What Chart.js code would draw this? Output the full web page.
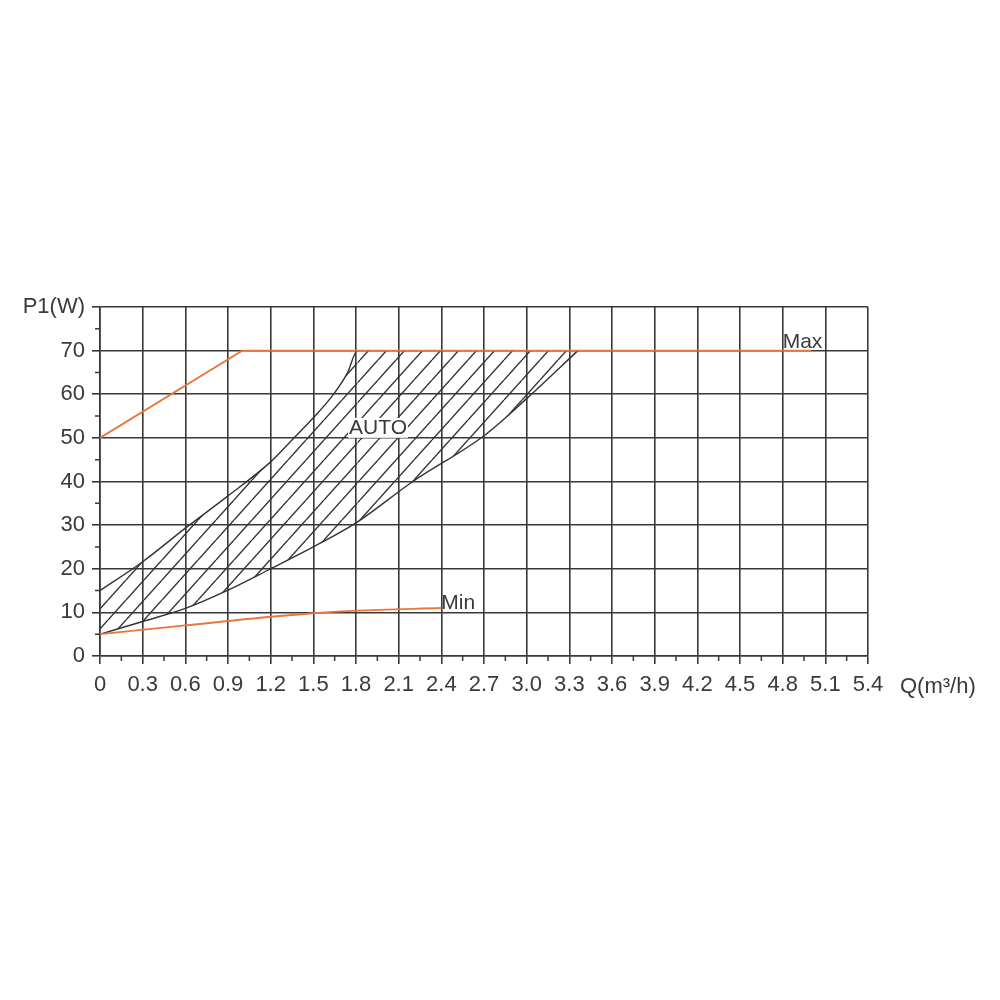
<!DOCTYPE html>
<html>
<head>
<meta charset="utf-8">
<script src="https://cdn.jsdelivr.net/npm/chart.js@4/dist/chart.umd.min.js"></script>
<style>
  body { margin: 0; background: #fff; }
  canvas { display: block; }
</style>
</head>
<body>
<canvas id="pump-graph" width="1000" height="1000"></canvas>
<script>
// Q (m3/h) and P1 (W)
const maxQ = [0, 1.0, 5.0];
const maxP = [50, 70, 70];

const minQ = [0, 0.6, 1.2, 1.5, 1.8, 2.4];
const minP = [5, 7, 9, 9.8, 10.4, 11];

const autoUpperQ = [0, 0.3, 0.6, 0.9, 1.2, 1.35, 1.5, 1.64, 1.74, 1.81, 3.36];
const autoUpperP = [15, 21.6, 29.3, 36.7, 44.5, 49.5, 54.6, 59.9, 64.9, 70, 70];

const autoLowerQ = [0, 0.3, 0.6, 0.9, 1.2, 1.5, 1.8, 2.2, 2.7, 3.0, 3.36];
const autoLowerP = [5, 7.9, 10.9, 15.1, 20, 25, 30.5, 40, 50.5, 59, 70];

const xTickLabels = ['0', '0.3', '0.6', '0.9', '1.2', '1.5', '1.8', '2.1', '2.4', '2.7',
    '3.0', '3.3', '3.6', '3.9', '4.2', '4.5', '4.8', '5.1', '5.4'];
const yTickLabels = ['0', '10', '20', '30', '40', '50', '60', '70', 'P1(W)'];

const gridColor = '#383838';
const textColor = '#3a3a3a';
const orange = '#e8773f';
const font = 'Liberation Sans, Arial, sans-serif';

function points(qs, ps) {
    return qs.map((q, i) => ({ x: q, y: ps[i] }));
}

function hatchPattern() {
    const c = document.createElement('canvas');
    c.width = 18;
    c.height = 20;
    const g = c.getContext('2d');
    g.strokeStyle = '#333';
    g.lineWidth = 1.4;
    for (const dx of [-18, 0, 18]) {
        g.beginPath();
        g.moveTo(dx, 20);
        g.lineTo(dx + 18, 0);
        g.stroke();
    }
    return g.createPattern(c, 'repeat');
}

// small ticks halfway between the labelled ones
const minorTicks = {
    id: 'minorTicks',
    afterDraw(chart) {
        const { ctx, scales: { x, y }, chartArea } = chart;
        ctx.save();
        ctx.strokeStyle = gridColor;
        ctx.lineWidth = 1.5;
        ctx.beginPath();
        for (let i = 0; i < x.ticks.length - 1; i++) {
            const px = (x.getPixelForValue(x.ticks[i].value) + x.getPixelForValue(x.ticks[i + 1].value)) / 2;
            ctx.moveTo(px, chartArea.bottom);
            ctx.lineTo(px, chartArea.bottom + 5);
        }
        for (let i = 0; i < y.ticks.length - 1; i++) {
            const py = (y.getPixelForValue(y.ticks[i].value) + y.getPixelForValue(y.ticks[i + 1].value)) / 2;
            ctx.moveTo(chartArea.left - 5, py);
            ctx.lineTo(chartArea.left, py);
        }
        ctx.stroke();
        ctx.restore();
    }
};

const curveLabels = {
    id: 'curveLabels',
    afterDraw(chart) {
        const { ctx, scales: { x, y }, chartArea } = chart;
        ctx.save();
        ctx.fillStyle = textColor;
        ctx.textBaseline = 'middle';
        ctx.font = '21px ' + font;

        ctx.textAlign = 'left';
        ctx.fillText('Max', x.getPixelForValue(4.8), y.getPixelForValue(72));
        ctx.fillText('Min', x.getPixelForValue(2.4), y.getPixelForValue(12));

        ctx.textAlign = 'center';
        const ax = x.getPixelForValue(1.955), ay = y.getPixelForValue(52.3);
        const w = ctx.measureText('AUTO').width;
        ctx.fillStyle = '#fff';
        ctx.fillRect(ax - w / 2 - 1, ay - 10, w + 2, 20);
        ctx.fillStyle = textColor;
        ctx.fillText('AUTO', ax, ay);

        ctx.font = '22px ' + font;
        ctx.textAlign = 'left';
        ctx.fillText('Q(m³/h)', chartArea.right + 32, chartArea.bottom + 31);
        ctx.restore();
    }
};

new Chart(document.getElementById('pump-graph'), {
    type: 'line',
    data: {
        datasets: [{
            label: 'Max',
            data: points(maxQ, maxP),
            borderColor: orange,
            borderWidth: 1.8,
            pointRadius: 0,
            fill: false
        }, {
            label: 'Min',
            data: points(minQ, minP),
            borderColor: orange,
            borderWidth: 1.8,
            pointRadius: 0,
            tension: 0.3,
            cubicInterpolationMode: 'monotone',
            fill: false
        }, {
            label: 'AUTO upper',
            data: points(autoUpperQ, autoUpperP),
            borderColor: '#333',
            borderWidth: 1.4,
            pointRadius: 0,
            cubicInterpolationMode: 'monotone',
            backgroundColor: hatchPattern(),
            fill: '+1',
            segment: {
                borderColor: ctx => ctx.p1DataIndex === autoUpperQ.length - 1 ? 'transparent' : undefined
            }
        }, {
            label: 'AUTO lower',
            data: points(autoLowerQ, autoLowerP),
            borderColor: '#333',
            borderWidth: 1.4,
            pointRadius: 0,
            cubicInterpolationMode: 'monotone',
            fill: false
        }]
    },
    options: {
        responsive: false,
        animation: false,
        layout: { padding: { left: 0, right: 132, top: 307, bottom: 0 } },
        plugins: {
            legend: { display: false },
            tooltip: { enabled: false }
        },
        scales: {
            x: {
                type: 'linear',
                min: 0,
                max: 5.4,
                afterFit(scale) { scale.height = 344; },
                ticks: {
                    stepSize: 0.3,
                    maxRotation: 0,
                    autoSkip: false,
                    padding: 8,
                    color: textColor,
                    font: { family: font, size: 22 },
                    callback: (value) => xTickLabels[Math.round(value / 0.3)]
                },
                grid: { color: gridColor, lineWidth: 1.6, tickLength: 8, tickColor: gridColor },
                border: { color: gridColor, width: 1.6 }
            },
            y: {
                min: 0,
                max: 80,
                afterFit(scale) { scale.width = 100; },
                ticks: {
                    stepSize: 10,
                    padding: 7,
                    color: textColor,
                    font: { family: font, size: 22 },
                    callback: (value) => yTickLabels[Math.round(value / 10)]
                },
                grid: { color: gridColor, lineWidth: 1.6, tickLength: 8, tickColor: gridColor },
                border: { color: gridColor, width: 1.6 }
            }
        }
    },
    plugins: [minorTicks, curveLabels]
});
</script>
</body>
</html>
